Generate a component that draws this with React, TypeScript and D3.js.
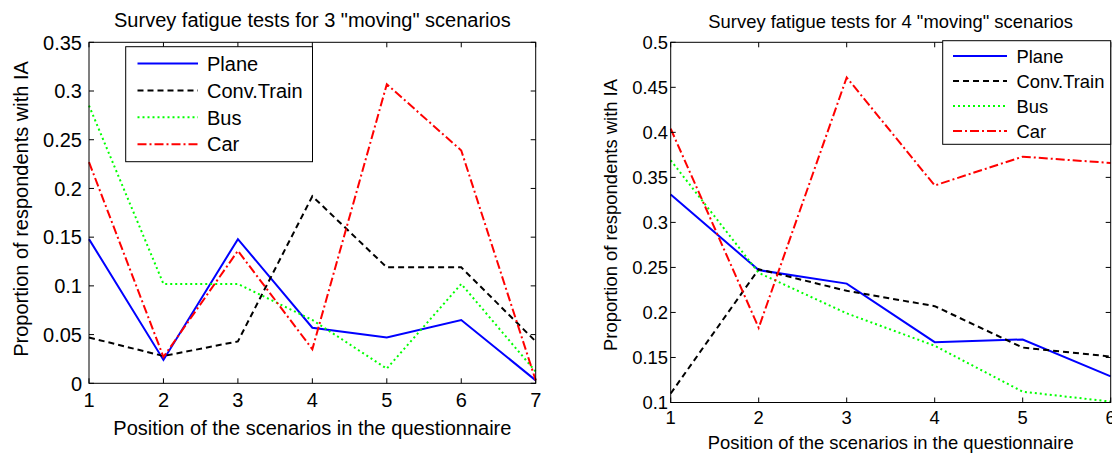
import React from 'react'
import * as d3 from 'd3';

const W = 1112;
const H = 453;

// series shared by both panels
const seriesNames = ["Plane", "Conv.Train", "Bus", "Car"];
const seriesColors = ["#0000ff", "#000000", "#00ff00", "#ff0000"];
const seriesDash = ["", "6,4", "2,3", "9,3,2,3"];

// left panel : 3 "moving" scenarios
const pos3 = [1, 2, 3, 4, 5, 6, 7];
const plane3 = [0.148, 0.024, 0.148, 0.057, 0.047, 0.065, 0.003];
const train3 = [0.047, 0.028, 0.043, 0.192, 0.119, 0.119, 0.043];
const bus3 = [0.285, 0.102, 0.102, 0.065, 0.015, 0.102, 0.012];
const car3 = [0.227, 0.027, 0.136, 0.035, 0.307, 0.239, 0.003];
const yTicks3 = [0, 0.05, 0.1, 0.15, 0.2, 0.25, 0.3, 0.35];

// right panel : 4 "moving" scenarios
const pos4 = [1, 2, 3, 4, 5, 6];
const plane4 = [0.331, 0.247, 0.232, 0.167, 0.170, 0.129];
const train4 = [0.110, 0.248, 0.224, 0.207, 0.161, 0.151];
const bus4 = [0.369, 0.244, 0.199, 0.163, 0.112, 0.101];
const car4 = [0.404, 0.183, 0.461, 0.341, 0.373, 0.366];
const yTicks4 = [0.1, 0.15, 0.2, 0.25, 0.3, 0.35, 0.4, 0.45, 0.5];

const font = "'Liberation Sans', Arial, Helvetica, sans-serif";
const tickLen = 5;

function Panel(props) {
  const { box, title, xs, series, yDomain, yTicks, fs, legend, titleY, xTickY, xLabelY, yTickX, yLabelX, yLabelY } = props;

  const x = d3.scaleLinear().domain([xs[0], xs[xs.length - 1]]).range([box.left, box.right]);
  const y = d3.scaleLinear().domain(yDomain).range([box.bottom, box.top]);

  const line = d3.line<number>()
    .x((_, i) => x(xs[i]))
    .y((d) => y(d));

  const cx = (box.left + box.right) / 2;

  return (
    <g fontFamily={font} fill="#000">
      <text x={cx} y={titleY} textAnchor="middle" fontSize={fs}>{title}</text>

      {series.map((s, k) => (
        <path key={k} d={line(s)} fill="none" stroke={seriesColors[k]}
          strokeWidth={2} strokeDasharray={seriesDash[k]} />
      ))}

      <rect x={box.left} y={box.top} width={box.right - box.left} height={box.bottom - box.top}
        fill="none" stroke="#000" strokeWidth={1} />

      {xs.map((v) => (
        <g key={"x" + v}>
          <line x1={x(v)} x2={x(v)} y1={box.bottom} y2={box.bottom - tickLen} stroke="#000" />
          <line x1={x(v)} x2={x(v)} y1={box.top} y2={box.top + tickLen} stroke="#000" />
          <text x={x(v)} y={xTickY} textAnchor="middle" fontSize={fs}>{v}</text>
        </g>
      ))}

      {yTicks.map((v) => (
        <g key={"y" + v}>
          <line x1={box.left} x2={box.left + tickLen} y1={y(v)} y2={y(v)} stroke="#000" />
          <line x1={box.right} x2={box.right - tickLen} y1={y(v)} y2={y(v)} stroke="#000" />
          <text x={yTickX} y={y(v)} dy="0.36em" textAnchor="end" fontSize={fs}>{d3.format("~g")(v)}</text>
        </g>
      ))}

      <text x={cx} y={xLabelY} textAnchor="middle" fontSize={fs}>
        Position of the scenarios in the questionnaire
      </text>
      <text transform={"translate(" + yLabelX + "," + yLabelY + ")rotate(-90)"} textAnchor="middle" fontSize={fs}>
        Proportion of respondents with IA
      </text>

      {/* legend */}
      <rect x={legend.x0} y={legend.y0} width={legend.x1 - legend.x0} height={legend.y1 - legend.y0}
        fill="#fff" stroke="#000" strokeWidth={1} />
      {seriesNames.map((n, k) => {
        const ly = legend.firstY + k * legend.step;
        return (
          <g key={n}>
            <line x1={legend.lineX0} x2={legend.lineX1} y1={ly} y2={ly} stroke={seriesColors[k]}
              strokeWidth={2} strokeDasharray={seriesDash[k]} />
            <text x={legend.textX} y={ly} dy="0.36em" fontSize={fs}>{n}</text>
          </g>
        );
      })}
    </g>
  );
}

export default function App() {
  return (
    <svg width={W} height={H} style={{ position: "absolute", left: 0, top: 0, background: "#fff" }}>
      <rect width={W} height={H} fill="#fff" />
      <Panel
        box={{ left: 89, right: 535.7, top: 42.3, bottom: 383.3 }}
        title={'Survey fatigue tests for 3 "moving" scenarios'}
        xs={pos3}
        series={[plane3, train3, bus3, car3]}
        yDomain={[0, 0.35]}
        yTicks={yTicks3}
        fs={20}
        titleY={27}
        xTickY={407}
        xLabelY={435}
        yTickX={82}
        yLabelX={28}
        yLabelY={209}
        legend={{ x0: 125.7, x1: 312.5, y0: 46.7, y1: 161.7, firstY: 63.5, step: 26.9, lineX0: 137.5, lineX1: 198, textX: 207 }}
      />
      <Panel
        box={{ left: 670.7, right: 1110.7, top: 42.3, bottom: 402.5 }}
        title={'Survey fatigue tests for 4 "moving" scenarios'}
        xs={pos4}
        series={[plane4, train4, bus4, car4]}
        yDomain={[0.1, 0.5]}
        yTicks={yTicks4}
        fs={18.4}
        titleY={28}
        xTickY={424}
        xLabelY={448.5}
        yTickX={668}
        yLabelX={616.7}
        yLabelY={215}
        legend={{ x0: 942.7, x1: 1110.7, y0: 40.7, y1: 144.3, firstY: 56, step: 25, lineX0: 953, lineX1: 1007, textX: 1016.5 }}
      />
    </svg>
  );
}
